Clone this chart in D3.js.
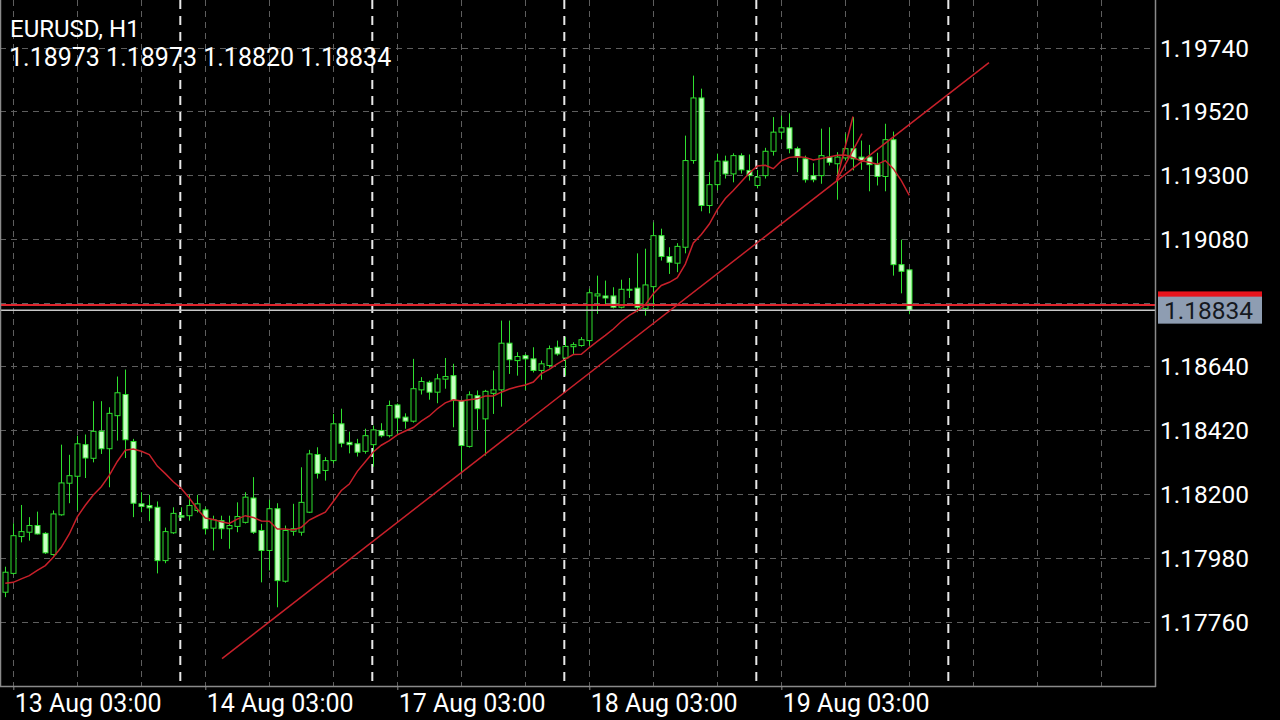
<!DOCTYPE html>
<html><head><meta charset="utf-8">
<script src="https://cdn.jsdelivr.net/npm/d3@7"></script>
<style>
html,body{margin:0;padding:0;background:#000;}
svg{display:block;}
text{font-family:Roboto,"Noto Sans",sans-serif;}
</style></head>
<body>
<svg id="chart" width="1280" height="720"></svg>
<script>
// ---- data ----
const symbolTitle = "EURUSD, H1";
const open = [
1.17861,1.17926,1.18053,1.18068,1.18091,1.18064,1.17991,1.18128,1.18237,1.18261,
1.18370,1.18323,1.18416,1.18356,1.18470,1.18543,1.18381,1.18166,1.18160,1.18154,
1.17970,1.18066,1.18125,1.18125,1.18143,1.18145,1.18082,1.18108,1.18080,1.18088,
1.18102,1.18186,1.18074,1.18005,1.18149,1.17899,1.18071,1.18068,1.18137,1.18336,
1.18281,1.18315,1.18442,1.18378,1.18373,1.18347,1.18370,1.18419,1.18401,1.18507,
1.18465,1.18451,1.18559,1.18585,1.18551,1.18596,1.18608,1.18522,1.18364,1.18539,
1.18459,1.18547,1.18559,1.18720,1.18660,1.18677,1.18666,1.18626,1.18643,1.18706,
1.18669,1.18708,1.18712,1.18729,1.18883,1.18883,1.18883,1.18844,1.18904,1.18910,
1.18839,1.18915,1.19091,1.19019,1.18996,1.19051,1.19350,1.19566,1.19195,1.19267,
1.19348,1.19304,1.19367,1.19316,1.19264,1.19298,1.19382,1.19448,1.19463,1.19391,
1.19356,1.19298,1.19298,1.19362,1.19339,1.19359,1.19391,1.19362,1.19362,1.19336,
1.19295,1.19422,1.18991,1.18973];
const high = [
1.17949,1.18099,1.18162,1.18120,1.18139,1.18068,1.18143,1.18370,1.18335,1.18401,
1.18405,1.18520,1.18520,1.18499,1.18605,1.18629,1.18390,1.18206,1.18197,1.18174,
1.18084,1.18154,1.18154,1.18197,1.18197,1.18154,1.18125,1.18125,1.18125,1.18171,
1.18206,1.18258,1.18097,1.18180,1.18168,1.18091,1.18166,1.18292,1.18352,1.18361,
1.18327,1.18476,1.18494,1.18415,1.18390,1.18425,1.18436,1.18444,1.18522,1.18512,
1.18478,1.18666,1.18603,1.18591,1.18614,1.18669,1.18649,1.18525,1.18554,1.18557,
1.18559,1.18626,1.18798,1.18798,1.18689,1.18683,1.18706,1.18660,1.18712,1.18729,
1.18741,1.18723,1.18741,1.18908,1.18953,1.18936,1.18913,1.18939,1.18945,1.19030,
1.19046,1.19137,1.19115,1.19051,1.19065,1.19436,1.19643,1.19598,1.19310,1.19374,
1.19367,1.19375,1.19375,1.19371,1.19318,1.19394,1.19500,1.19505,1.19513,1.19398,
1.19367,1.19341,1.19460,1.19465,1.19379,1.19443,1.19500,1.19419,1.19404,1.19377,
1.19477,1.19450,1.19077,1.18973];
const low = [
1.17844,1.17922,1.18033,1.18039,1.18060,1.17993,1.17987,1.18125,1.18168,1.18143,
1.18255,1.18309,1.18338,1.18223,1.18384,1.18324,1.18120,1.18137,1.18106,1.17926,
1.17961,1.18062,1.18119,1.18108,1.18136,1.18060,1.18005,1.18045,1.18011,1.18068,
1.18098,1.18062,1.17895,1.17936,1.17809,1.17894,1.18056,1.18056,1.18134,1.18253,
1.18246,1.18305,1.18361,1.18340,1.18329,1.18339,1.18294,1.18395,1.18395,1.18409,
1.18425,1.18446,1.18543,1.18525,1.18513,1.18563,1.18430,1.18275,1.18360,1.18421,
1.18332,1.18476,1.18501,1.18614,1.18608,1.18559,1.18619,1.18594,1.18636,1.18677,
1.18608,1.18683,1.18708,1.18712,1.18821,1.18850,1.18840,1.18840,1.18876,1.18827,
1.18815,1.18844,1.19005,1.18959,1.18965,1.19030,1.19339,1.19175,1.19168,1.19247,
1.19288,1.19275,1.19305,1.19281,1.19254,1.19288,1.19367,1.19423,1.19375,1.19310,
1.19274,1.19275,1.19270,1.19333,1.19215,1.19350,1.19316,1.19318,1.19244,1.19264,
1.19244,1.18953,1.18892,1.18820];
const close = [
1.17930,1.18056,1.18070,1.18091,1.18062,1.17997,1.18131,1.18238,1.18263,1.18373,
1.18324,1.18416,1.18356,1.18478,1.18549,1.18387,1.18168,1.18157,1.18152,1.17970,
1.18070,1.18133,1.18120,1.18160,1.18166,1.18080,1.18111,1.18080,1.18091,1.18122,
1.18189,1.18068,1.18005,1.18149,1.17901,1.18074,1.18080,1.18171,1.18338,1.18271,
1.18315,1.18442,1.18375,1.18370,1.18344,1.18401,1.18421,1.18401,1.18505,1.18462,
1.18451,1.18563,1.18588,1.18551,1.18597,1.18605,1.18522,1.18367,1.18542,1.18494,
1.18554,1.18559,1.18720,1.18663,1.18674,1.18666,1.18626,1.18649,1.18701,1.18683,
1.18709,1.18715,1.18732,1.18894,1.18890,1.18876,1.18844,1.18906,1.18906,1.18844,
1.18921,1.19091,1.19019,1.18999,1.19054,1.19350,1.19566,1.19195,1.19267,1.19348,
1.19304,1.19367,1.19318,1.19298,1.19293,1.19382,1.19448,1.19463,1.19391,1.19362,
1.19284,1.19284,1.19367,1.19344,1.19362,1.19391,1.19356,1.19350,1.19336,1.19295,
1.19422,1.18991,1.18968,1.18834];
const maValues = [
1.17892,1.17895,1.17907,1.17918,1.17936,1.17953,1.17982,1.18016,1.18062,1.18121,
1.18161,1.18196,1.18225,1.18264,1.18312,1.18351,1.18355,1.18347,1.18336,1.18296,
1.18270,1.18242,1.18219,1.18186,1.18148,1.18117,1.18112,1.18104,1.18098,1.18113,
1.18125,1.18119,1.18107,1.18106,1.18079,1.18079,1.18076,1.18085,1.18110,1.18124,
1.18137,1.18174,1.18212,1.18234,1.18278,1.18311,1.18345,1.18368,1.18384,1.18404,
1.18417,1.18429,1.18451,1.18469,1.18494,1.18514,1.18525,1.18521,1.18525,1.18528,
1.18538,1.18538,1.18551,1.18562,1.18570,1.18576,1.18586,1.18615,1.18630,1.18649,
1.18665,1.18681,1.18682,1.18705,1.18726,1.18747,1.18769,1.18795,1.18816,1.18832,
1.18853,1.18891,1.18919,1.18930,1.18946,1.18993,1.19066,1.19095,1.19131,1.19181,
1.19219,1.19247,1.19277,1.19307,1.19331,1.19334,1.19322,1.19349,1.19361,1.19363,
1.19361,1.19352,1.19357,1.19362,1.19368,1.19369,1.19360,1.19349,1.19344,1.19337,
1.19350,1.19322,1.19281,1.19230];
const priceTicks = [1.19740,1.19520,1.19300,1.19080,1.18860,1.18640,1.18420,1.18200,1.17980,1.17760];
const timeLabels = ["13 Aug 03:00","14 Aug 03:00","17 Aug 03:00","18 Aug 03:00","19 Aug 03:00"];
const timeLabelBars = [1,25,49,73,97];
const daySeparatorBars = [22,46,70,94,118];
const gridBars = [1,9,17,25,33,41,49,57,65,73,81,89,97,105,113,121,129,137];
const bidPrice = 1.18834;
const askPrice = 1.18852;
const trendBars = [27.09,122.96];
const trendPrices = [1.17632,1.19688];
const fanBars = [[103.9,105.96],[103.9,107.09]];
const fanPrices = [[1.19281,1.19502],[1.19281,1.19443]];

// ---- layout ----
const plotR = 1155, plotB = 686;
const svg = d3.select("#chart");
svg.append("rect").attr("width",1280).attr("height",720).attr("fill","#000");

const x = d3.scaleLinear().domain([-0.6625, 143.71]).range([0, plotR]);
const y = d3.scaleLinear().domain([1.19740, 1.17760]).range([47.5, 621.5]);

svg.append("clipPath").attr("id","clip").append("rect").attr("x",0).attr("y",0).attr("width",plotR).attr("height",plotB);
const plot = svg.append("g").attr("clip-path","url(#clip)");

// faint grid
plot.selectAll("line.hg").data(priceTicks).join("line").attr("class","hg")
  .attr("x1",0).attr("x2",plotR).attr("y1",d=>Math.round(y(d))+0.5).attr("y2",d=>Math.round(y(d))+0.5)
  .attr("stroke","#5e5e5e").attr("stroke-width",1).attr("stroke-dasharray","6,5");
plot.selectAll("line.vg").data(gridBars).join("line").attr("class","vg")
  .attr("x1",d=>Math.round(x(d))+0.5).attr("x2",d=>Math.round(x(d))+0.5).attr("y1",0).attr("y2",plotB)
  .attr("stroke","#5e5e5e").attr("stroke-width",1).attr("stroke-dasharray","6,5");
// day separators
plot.selectAll("line.sep").data(daySeparatorBars).join("line").attr("class","sep")
  .attr("x1",d=>x(d)-1).attr("x2",d=>x(d)-1).attr("y1",0).attr("y2",plotB)
  .attr("stroke","#e8e8e8").attr("stroke-width",2).attr("stroke-dasharray","9,7");

// candles
const bars = d3.range(open.length);
const bullStroke = "#2fe02f";
plot.selectAll("line.wick").data(bars).join("line").attr("class","wick")
  .attr("x1",i=>Math.round(x(i))+0.5).attr("x2",i=>Math.round(x(i))+0.5)
  .attr("y1",i=>y(high[i])).attr("y2",i=>y(low[i]))
  .attr("stroke",bullStroke).attr("stroke-width",1);
plot.selectAll("rect.body").data(bars).join("rect").attr("class","body")
  .attr("x",i=>Math.round(x(i))-2).attr("width",5)
  .attr("y",i=>y(Math.max(open[i],close[i])))
  .attr("height",i=>Math.max(1,Math.abs(y(open[i])-y(close[i]))))
  .attr("fill",i=>close[i]>=open[i]?"#000":"#c9ffc4")
  .attr("stroke",bullStroke).attr("stroke-width",1);

// bid / ask lines
plot.append("line").attr("x1",0).attr("x2",plotR).attr("y1",y(askPrice)).attr("y2",y(askPrice))
  .attr("stroke","#e0242c").attr("stroke-width",2);
plot.append("line").attr("x1",0).attr("x2",plotR).attr("y1",y(bidPrice)).attr("y2",y(bidPrice))
  .attr("stroke","#c8c8c8").attr("stroke-width",1.5);

// trendlines
const red = "#c8202a";
plot.append("line").attr("x1",x(trendBars[0])).attr("y1",y(trendPrices[0]))
  .attr("x2",x(trendBars[1])).attr("y2",y(trendPrices[1])).attr("stroke",red).attr("stroke-width",1.5);
fanBars.forEach((b,k)=>{
  plot.append("line").attr("x1",x(b[0])).attr("y1",y(fanPrices[k][0]))
   .attr("x2",x(b[1])).attr("y2",y(fanPrices[k][1])).attr("stroke",red).attr("stroke-width",1.5);
});
// moving average
plot.append("path").datum(bars).attr("fill","none").attr("stroke",red).attr("stroke-width",1.5)
  .attr("d",d3.line().x(i=>x(i)).y(i=>y(maValues[i])));

// frame
svg.append("line").attr("x1",plotR+0.5).attr("x2",plotR+0.5).attr("y1",0).attr("y2",plotB+1).attr("stroke","#8a8a8a").attr("stroke-width",1.5);
svg.append("line").attr("x1",0).attr("x2",plotR+1).attr("y1",plotB+0.5).attr("y2",plotB+0.5).attr("stroke","#8a8a8a").attr("stroke-width",1.5);
svg.append("line").attr("x1",0.5).attr("x2",0.5).attr("y1",0).attr("y2",plotB).attr("stroke","#8a8a8a").attr("stroke-width",1.5);

// price axis (the tick hidden behind the bid label is not labelled)
const shownTicks = priceTicks.filter(d=>Math.abs(y(d)-y(bidPrice))>20);
const yAxis = d3.axisRight(y).tickValues(shownTicks).tickFormat(d3.format(".5f")).tickSize(0).tickPadding(5);
const ya = svg.append("g").attr("transform",`translate(${plotR},0)`).call(yAxis);
ya.select(".domain").remove();
ya.selectAll("text").attr("fill","#ffffff").attr("font-size",24.5).attr("dy","0.35em");

// time axis
const xAxis = d3.axisBottom(x).tickValues(timeLabelBars).tickFormat((d,i)=>timeLabels[i]).tickSize(4).tickPadding(4);
const xa = svg.append("g").attr("transform",`translate(0,${plotB})`).call(xAxis);
xa.select(".domain").remove();
xa.selectAll("line").attr("stroke","#8a8a8a");
xa.selectAll("text").attr("fill","#ffffff").attr("font-size",25).attr("text-anchor","start").attr("dx",1);

// ask / bid labels
const lblH = 27;
svg.append("rect").attr("x",plotR+3).attr("y",y(askPrice)-lblH/2).attr("width",104).attr("height",lblH).attr("fill","#e8141c");
svg.append("rect").attr("x",plotR+3).attr("y",y(bidPrice)-lblH/2).attr("width",104).attr("height",lblH).attr("fill","#8e9db2");
svg.append("text").attr("x",plotR+9).attr("y",y(bidPrice)).attr("dy","0.36em").attr("font-size",24.5)
  .attr("fill","#15191f").text(d3.format(".5f")(bidPrice));

// title
const last = open.length-1;
svg.append("text").attr("x",10).attr("y",37).attr("font-size",24).attr("fill","#ffffff").text(symbolTitle);
svg.append("text").attr("x",9).attr("y",66).attr("font-size",25).attr("fill","#ffffff")
  .text([open[last],high[last],low[last],close[last]].map(d3.format(".5f")).join(" "));
</script>
</body></html>
